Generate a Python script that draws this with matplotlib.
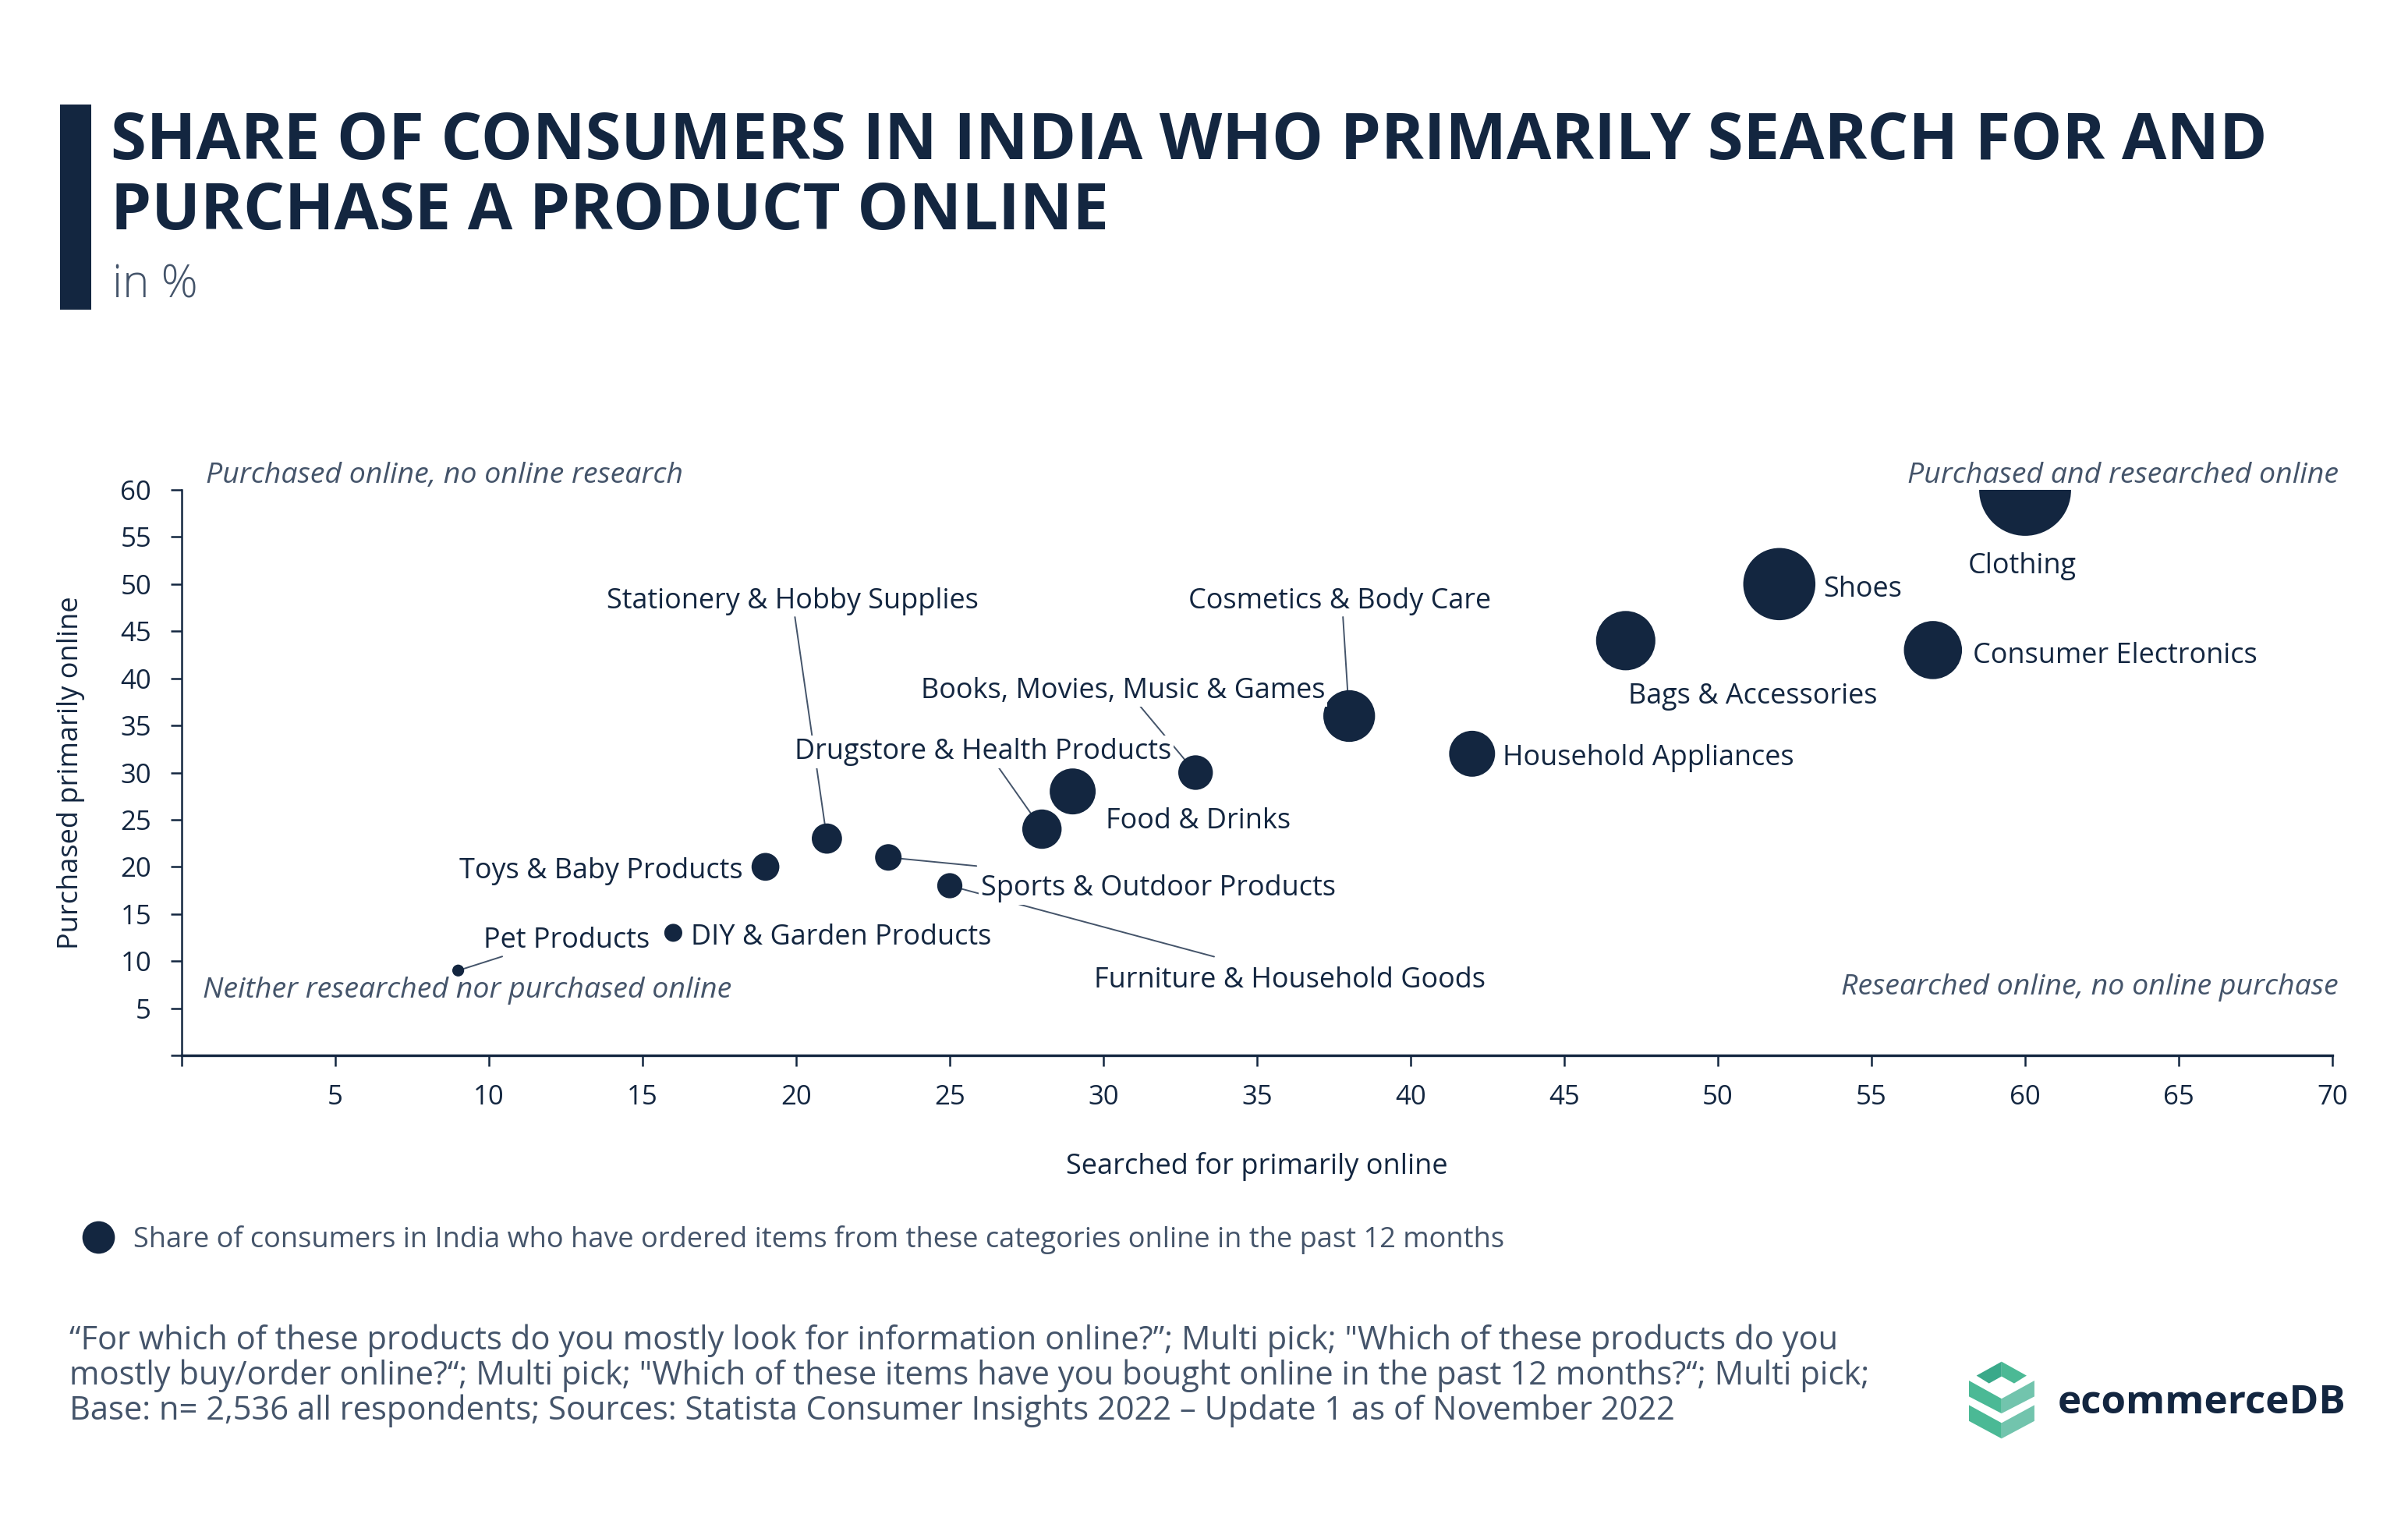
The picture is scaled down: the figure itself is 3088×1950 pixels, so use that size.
import matplotlib
matplotlib.use("Agg")
import matplotlib.pyplot as plt
from matplotlib.lines import Line2D
from matplotlib.patches import Polygon, Rectangle

plt.rcParams['font.family'] = ['Open Sans', 'DejaVu Sans']

# ---------------- data ----------------
categories = ["Clothing", "Shoes", "Consumer Electronics", "Bags & Accessories",
              "Household Appliances", "Cosmetics & Body Care",
              "Books, Movies, Music & Games", "Food & Drinks",
              "Drugstore & Health Products", "Furniture & Household Goods",
              "Sports & Outdoor Products", "Stationery & Hobby Supplies",
              "Toys & Baby Products", "DIY & Garden Products", "Pet Products"]
searched_online = [60, 52, 57, 47, 42, 38, 33, 29, 28, 25, 23, 21, 19, 16, 9]
purchased_online = [60, 50, 43, 44, 32, 36, 30, 28, 24, 18, 21, 23, 20, 13, 9]
ordered_past_12m = [60, 37, 24, 25, 15, 19, 8.5, 15, 11, 4.5, 5, 6.5, 5.5, 2.3, 1]

x_ticks = list(range(0, 71, 5))
y_ticks = list(range(0, 61, 5))

# label layout: (ha, dx, dy, line start (dx, dy) or None, masked) in image pixels
label_layout = [
    ("center", -4, -98, None, False),
    ("left", 56, -7, None, False),
    ("left", 51, -8, None, False),
    ("center", 163, -72, None, False),
    ("left", 39, -6, None, False),
    ("center", -12, 147, (-8, 127), False),
    ("center", -93, 105, (-71, 85), True),
    ("left", 42, -38, None, False),
    ("center", -76, 99, (-57, 81), True),
    ("center", 436, -122, (339, -91), False),
    ("left", 119, -40, (113, -11), True),
    ("center", -44, 304, (-41, 284), False),
    ("right", -29, -6, None, False),
    ("left", 23, -6, None, False),
    ("center", 139, 38, (56.5, 18), False),
]

NAVY = "#132640"
GREY = "#44546a"
W, H, DPI = 3088, 1950, 200

fig = plt.figure(figsize=(W / DPI, H / DPI), dpi=DPI)
renderer = fig.canvas.get_renderer()


def fit(t, target):
    w = t.get_window_extent(renderer=renderer).width
    t.set_fontsize(t.get_fontsize() * target / w)
    return t.get_fontsize()


# overlay axes in image-pixel coordinates for decoration
ov = fig.add_axes([0, 0, 1, 1], zorder=0)
ov.set_xlim(0, W)
ov.set_ylim(H, 0)
ov.axis("off")

# main axes
L, R, T, B = 233, 2991, 628, 1353
ax = fig.add_axes([L / W, 1 - B / H, (R - L) / W, (B - T) / H], zorder=1)
ax.patch.set_visible(False)
ax.set_xlim(0, 70)
ax.set_ylim(0, 60)

# title block
ov.add_patch(Rectangle((77, 134), 40, 263, color=NAVY, lw=0))
t1 = ov.text(142, 204, "SHARE OF CONSUMERS IN INDIA WHO PRIMARILY SEARCH FOR AND",
             fontsize=30, fontweight="bold", color=NAVY, va="baseline", ha="left")
tsize = fit(t1, 2764)
ov.text(142, 294, "PURCHASE A PRODUCT ONLINE", fontsize=tsize, fontweight="bold",
        color=NAVY, va="baseline", ha="left")
ov.text(144, 381, "in %", fontsize=21, fontweight="light", color=GREY,
        va="baseline", ha="left")

# bubbles
K = 30.0
sizes = [v * K for v in ordered_past_12m]
ax.scatter(searched_online, purchased_online, s=sizes, color=NAVY, lw=0, zorder=3)

# labels
probe = ax.text(0, 0, "Consumer Electronics", fontsize=12)
lsize = fit(probe, 366)
probe.remove()

for cat, x, y, (ha, dx, dy, line, masked) in zip(categories, searched_online,
                                                  purchased_online, label_layout):
    if line is not None:
        ax.annotate("", xy=(x, y), xytext=line, textcoords="offset pixels",
                    arrowprops=dict(arrowstyle="-", color=GREY, lw=0.7,
                                    shrinkA=0, shrinkB=0), zorder=2)
    kw = {}
    if masked:
        kw["bbox"] = dict(boxstyle="square,pad=0.08", fc="white", ec="none")
    ax.annotate(cat, xy=(x, y), xytext=(dx, dy), textcoords="offset pixels",
                ha=ha, va="center", fontsize=lsize, color=NAVY, zorder=5, **kw)

# axes styling
for s in ("top", "right"):
    ax.spines[s].set_visible(False)
ax.spines["bottom"].set_color(NAVY)
ax.spines["bottom"].set_linewidth(1.2)
ax.spines["left"].set_color(NAVY)
ax.spines["left"].set_linewidth(0.9)
ax.set_xticks(x_ticks)
ax.set_xticklabels([""] + [str(v) for v in x_ticks[1:]])
ax.set_yticks(y_ticks)
ax.set_yticklabels([""] + [str(v) for v in y_ticks[1:]])
ax.tick_params(axis="x", length=5, width=0.9, pad=8.5, colors=NAVY, labelsize=12.5)
ax.tick_params(axis="y", length=5, width=0.9, pad=9, colors=NAVY, labelsize=12.5)

xl = ax.set_xlabel("Searched for primarily online", color=NAVY, va="center", fontsize=12)
asize = fit(xl, 490)
ax.xaxis.set_label_coords(0.5, (B - 1495) / (B - T))
ax.set_ylabel("Purchased primarily online", color=NAVY, va="center", ha="center",
              fontsize=asize)
ax.yaxis.set_label_coords((91 - L) / (R - L), 0.5)

# quadrant notes
q = ov.text(2999, 610, "Purchased and researched online", ha="right", va="center",
            style="italic", color=GREY, fontsize=12)
qsize = fit(q, 553)
ov.text(264, 610, "Purchased online, no online research", ha="left", va="center",
        style="italic", color=GREY, fontsize=qsize)
ov.text(260, 1270, "Neither researched nor purchased online", ha="left", va="center",
        style="italic", color=GREY, fontsize=qsize)
ov.text(2999, 1266, "Researched online, no online purchase", ha="right", va="center",
        style="italic", color=GREY, fontsize=qsize)

# legend
legend_text = ("Share of consumers in India who have ordered items from these "
               "categories online in the past 12 months")
probe = ov.text(0, 0, legend_text, fontsize=12)
gsize = fit(probe, 1762)
probe.remove()
fs_px = gsize * DPI / 72
hl = 1.0
x0 = 126 - hl * fs_px / 2
pad = (171 - (x0 + hl * fs_px)) / fs_px
fig.legend(handles=[Line2D([0], [0], marker="o", ls="", color=NAVY, ms=14)],
           labels=[legend_text], loc="center left",
           bbox_to_anchor=(x0 / W, 1 - 1589 / H), frameon=False, borderpad=0,
           borderaxespad=0, handlelength=hl, handletextpad=pad, fontsize=gsize,
           labelcolor=GREY)

# footer
foot = ["\u201cFor which of these products do you mostly look for information online?\u201d; "
        "Multi pick; \"Which of these products do you",
        "mostly buy/order online?\u201c; Multi pick; \"Which of these items have you bought "
        "online in the past 12 months?\u201c; Multi pick;",
        "Base: n= 2,536 all respondents; Sources: Statista Consumer Insights 2022 \u2013 "
        "Update 1 as of November 2022"]
f1 = ov.text(89, 1730, foot[0], ha="left", va="baseline", color=GREY, fontsize=13)
fsize = fit(f1, 2272)
ov.text(89, 1775, foot[1], ha="left", va="baseline", color=GREY, fontsize=fsize)
ov.text(89, 1820, foot[2], ha="left", va="baseline", color=GREY, fontsize=fsize)

# logo
c_dark, c_mid, c_light = "#3aa98a", "#4bb995", "#72c4ad"
icon = [
    ([(2534.6, 1763.6), (2566.8, 1745.7), (2566.8, 1764.6), (2550.7, 1773.6)], c_dark),
    ([(2566.8, 1745.7), (2598.9, 1763.6), (2582.9, 1773.6), (2566.8, 1764.6)], c_mid),
    ([(2525, 1770), (2566.8, 1793.2), (2566.8, 1812.1), (2525, 1790.4)], c_mid),
    ([(2566.8, 1793.2), (2608.9, 1770), (2608.9, 1790.4), (2566.8, 1812.1)], c_light),
    ([(2525, 1801.4), (2566.8, 1824.3), (2566.8, 1844.3), (2525, 1821.8)], c_mid),
    ([(2566.8, 1824.3), (2608.9, 1801.4), (2608.9, 1821.8), (2566.8, 1844.3)], c_light),
]
for pts, c in icon:
    ov.add_patch(Polygon(pts, closed=True, color=c, lw=0))
lg = ov.text(2639, 1812, "ecommerceDB", ha="left", va="baseline", fontweight="bold",
             color=NAVY, fontsize=16)
fit(lg, 370)

fig.savefig("out.png", dpi=DPI, facecolor="white")
